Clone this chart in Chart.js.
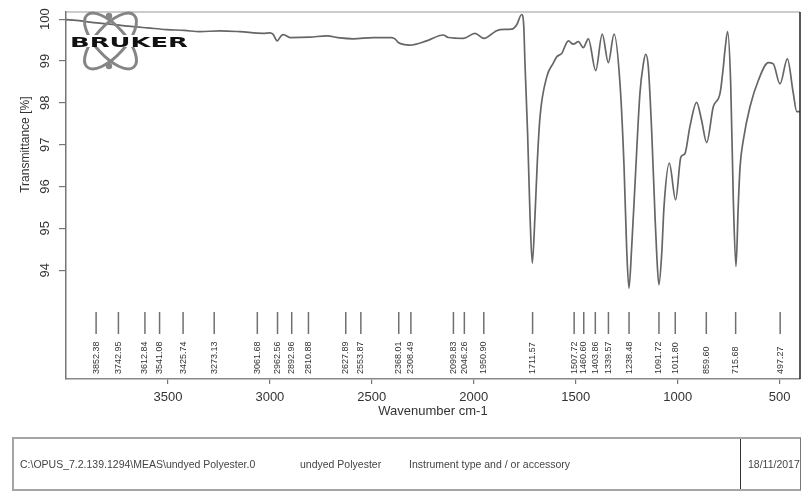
<!DOCTYPE html>
<html>
<head>
<meta charset="utf-8">
<script src="https://cdn.jsdelivr.net/npm/chart.js@4"></script>
<style>
  html, body { margin: 0; padding: 0; background: #fff; }
  #wrap { position: relative; width: 809px; height: 498px; }
  #wrap canvas { position: absolute; left: 0; top: 0; }
  #logo { position: absolute; left: 60px; top: 8px; }
  #footer { position: absolute; left: 12px; top: 437px; width: 786px; height: 50px;
    border: 2px solid #a5a5a5; border-right: 1px solid #777;
    font: 10.5px "Liberation Sans", Arial, sans-serif; color: #444; }
  #footer span { position: absolute; top: 50%; transform: translateY(-50%); white-space: nowrap; }
  #footer .sep { position: absolute; left: 726px; top: 0; bottom: 0; border-left: 1.5px solid #333; }
</style>
</head>
<body>
<div id="wrap">
  <canvas id="spectrum" width="809" height="498"></canvas>
  <svg id="logo" width="140" height="66" viewBox="0 0 140 66">
    <g fill="none" stroke="#858585" stroke-width="3">
      <ellipse cx="50.5" cy="33" rx="35" ry="15" transform="rotate(48 50.5 33)"/>
      <ellipse cx="50.5" cy="33" rx="35" ry="15" transform="rotate(-48 50.5 33)"/>
    </g>
    <circle cx="49" cy="8" r="3.2" fill="#858585"/>
    <circle cx="49" cy="58" r="3.2" fill="#858585"/>
    <rect x="8" y="27" width="122" height="12" fill="#fff"/>
    <text x="10" y="38.5" textLength="118" lengthAdjust="spacingAndGlyphs"
      font-family="DejaVu Sans" font-weight="bold" font-size="14.5" fill="#111">BRUKER</text>
  </svg>
  <div id="footer">
    <span style="left:6px">C:\OPUS_7.2.139.1294\MEAS\undyed Polyester.0</span>
    <span style="left:286px">undyed Polyester</span>
    <span style="left:395px">Instrument type and / or accessory</span>
    <div class="sep"></div>
    <span style="left:734px">18/11/2017</span>
  </div>
</div>
<script>
// spectrum (cm-1, % transmittance)
const wavenumbers = [4000, 3950, 3900, 3850, 3784, 3671, 3600, 3506, 3420, 3343,
  3245, 3147, 3032, 3000, 2985, 2964, 2945, 2934, 2901, 2803,
  2721, 2656, 2591, 2493, 2403, 2385, 2370, 2313, 2231, 2150,
  2125, 2051, 1994, 1950, 1896, 1871, 1814, 1790, 1765, 1755,
  1749, 1736, 1724, 1713, 1700, 1688, 1675, 1642, 1610, 1593,
  1569, 1536, 1512, 1487, 1463, 1438, 1402, 1370, 1340, 1312,
  1283, 1263, 1250, 1239, 1225, 1209, 1185, 1168, 1157, 1144,
  1127, 1111, 1103, 1092, 1078, 1067, 1041, 1010, 984, 965,
  940, 907, 883, 858, 825, 792, 776, 768, 755, 740,
  727, 714, 703, 694, 678, 645, 604, 555, 531, 498,
  462, 433, 416, 400];
const transmittance = [99.99, 99.97, 99.94, 99.91, 99.88, 99.82, 99.79, 99.75, 99.73, 99.70,
  99.72, 99.70, 99.66, 99.67, 99.64, 99.48, 99.60, 99.63, 99.56, 99.57,
  99.60, 99.55, 99.53, 99.56, 99.56, 99.52, 99.44, 99.38, 99.48, 99.62,
  99.56, 99.54, 99.66, 99.54, 99.70, 99.75, 99.76, 99.86, 100.11, 99.85,
  98.95, 97.27, 95.28, 94.17, 95.28, 96.63, 97.67, 98.62, 98.95, 99.10,
  99.18, 99.48, 99.40, 99.46, 99.32, 99.53, 98.77, 99.64, 98.96, 99.64,
  98.47, 96.47, 94.50, 93.57, 94.60, 96.08, 98.23, 98.94, 99.16, 98.86,
  97.27, 95.28, 94.41, 93.65, 94.41, 95.52, 96.56, 95.68, 96.71, 96.78,
  97.43, 98.01, 97.59, 97.05, 97.91, 98.23, 98.86, 99.26, 99.70, 98.47,
  95.68, 94.09, 95.52, 96.47, 97.11, 97.91, 98.54, 98.96, 98.93, 98.45,
  99.05, 98.23, 97.79, 97.79];

const xTickValues = [3500, 3000, 2500, 2000, 1500, 1000, 500];
const yTickValues = [94, 95, 96, 97, 98, 99, 100];
const peakPositions = [3852.38, 3742.95, 3612.84, 3541.08, 3425.74, 3273.13, 3061.68,
  2962.56, 2892.96, 2810.88, 2627.89, 2553.87, 2368.01, 2308.49, 2099.83, 2046.26,
  1950.90, 1711.57, 1507.72, 1460.60, 1403.86, 1339.57, 1238.48, 1091.72, 1011.80,
  859.60, 715.68, 497.27];

const FONT = '"Liberation Sans", Arial, sans-serif';

const opusExtras = {
  id: 'opusExtras',
  afterDraw(chart) {
    const ctx = chart.ctx;
    const area = chart.chartArea;
    const xs = chart.scales.x;
    const ys = chart.scales.y;
    ctx.save();
    // frame: top and right edges
    ctx.lineWidth = 1.2;
    ctx.strokeStyle = '#999';
    ctx.beginPath();
    ctx.moveTo(area.left, area.top);
    ctx.lineTo(area.right, area.top);
    ctx.stroke();
    ctx.lineWidth = 1.5;
    ctx.strokeStyle = '#222';
    ctx.beginPath();
    ctx.moveTo(area.right, area.top);
    ctx.lineTo(area.right, area.bottom);
    ctx.stroke();

    // y axis title, centred on the labelled tick range
    const midY = ys.getPixelForValue((yTickValues[0] + yTickValues[yTickValues.length - 1]) / 2);
    ctx.translate(26, midY);
    ctx.rotate(-Math.PI / 2);
    ctx.fillStyle = '#333';
    ctx.font = '12px ' + FONT;
    ctx.textAlign = 'center';
    ctx.textBaseline = 'middle';
    ctx.fillText('Transmittance [%]', 0, 0);
    ctx.setTransform(1, 0, 0, 1, 0, 0);

    // peak picks
    ctx.strokeStyle = '#707070';
    ctx.lineWidth = 1.5;
    ctx.font = '9px ' + FONT;
    ctx.fillStyle = '#333';
    ctx.textAlign = 'left';
    ctx.textBaseline = 'middle';
    peakPositions.forEach(p => {
      const px = xs.getPixelForValue(p);
      ctx.beginPath();
      ctx.moveTo(px, area.bottom - 67);
      ctx.lineTo(px, area.bottom - 45);
      ctx.stroke();
      ctx.save();
      ctx.translate(px, area.bottom - 5);
      ctx.rotate(-Math.PI / 2);
      ctx.fillText(p.toFixed(2), 0, 0);
      ctx.restore();
    });
    ctx.restore();
  }
};

new Chart(document.getElementById('spectrum'), {
  type: 'line',
  data: {
    datasets: [{
      data: wavenumbers.map((w, i) => ({ x: w, y: transmittance[i] })),
      borderColor: '#666',
      borderWidth: 1.7,
      pointRadius: 0,
      fill: false,
      cubicInterpolationMode: 'monotone'
    }]
  },
  options: {
    responsive: false,
    animation: false,
    devicePixelRatio: 1,
    layout: { padding: { left: 0, top: 12, right: 9, bottom: 73 } },
    plugins: { legend: { display: false }, tooltip: { enabled: false } },
    scales: {
      x: {
        type: 'linear',
        min: 400,
        max: 4000,
        reverse: true,
        afterBuildTicks: s => { s.ticks = xTickValues.map(v => ({ value: v })); },
        afterFit: s => { s.height = 46; },
        grid: { drawOnChartArea: false, tickLength: 5, color: '#777', lineWidth: 1.2 },
        border: { color: '#888', width: 1.5 },
        ticks: { font: { size: 13, family: FONT }, color: '#333', padding: 6,
          maxRotation: 0, autoSkip: false, callback: v => String(v) },
        title: { display: true, text: 'Wavenumber cm-1', color: '#333',
          font: { size: 13, family: FONT }, padding: { top: 0, bottom: 6 } }
      },
      y: {
        type: 'linear',
        min: 91.4,
        max: 100.17,
        afterBuildTicks: s => { s.ticks = yTickValues.map(v => ({ value: v })); },
        afterFit: s => { s.width = 66; },
        grid: { drawOnChartArea: false, tickLength: 7, color: '#777', lineWidth: 1.2 },
        border: { color: '#777', width: 1.5 },
        ticks: { font: { size: 13, family: FONT }, color: '#333', padding: 3,
          minRotation: 90, maxRotation: 90, crossAlign: 'center', callback: v => String(v) }
      }
    }
  },
  plugins: [opusExtras]
});
</script>
</body>
</html>
